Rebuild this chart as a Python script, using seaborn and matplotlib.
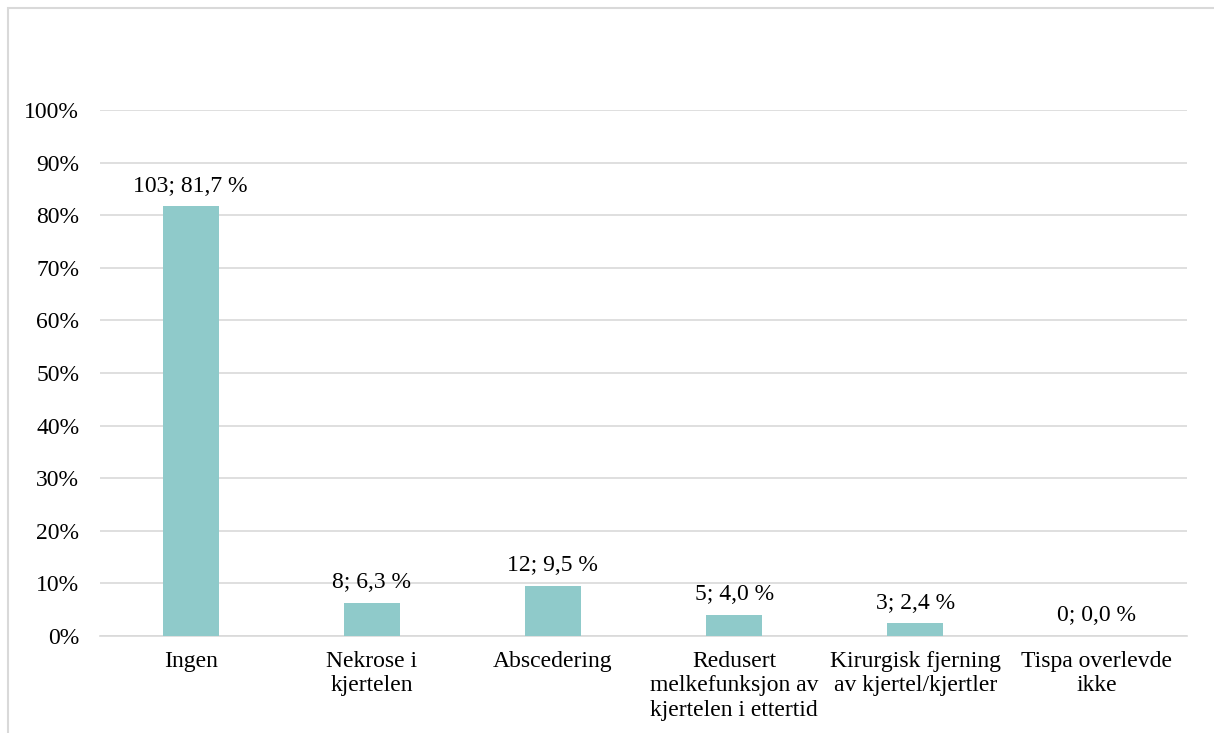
import matplotlib
matplotlib.use("Agg")
import matplotlib.pyplot as plt
import seaborn as sns
import pandas as pd
from matplotlib.patches import Rectangle
from matplotlib.ticker import FuncFormatter

categories = ["Ingen", "Nekrose i\nkjertelen", "Abscedering",
              "Redusert\nmelkefunksjon av\nkjertelen i ettertid",
              "Kirurgisk fjerning\nav kjertel/kjertler", "Tispa overlevde\nikke"]
counts = [103, 8, 12, 5, 3, 0]
percents = [81.7, 6.3, 9.5, 4.0, 2.4, 0.0]
yticks = [0, 10, 20, 30, 40, 50, 60, 70, 80, 90, 100]

sns.set_theme(style="white")
plt.rcParams['font.family'] = ['Liberation Serif', 'DejaVu Serif']

df = pd.DataFrame({"cat": categories, "pct": percents})

fig = plt.figure(figsize=(12.14, 7.33), dpi=100)
ax = fig.add_axes([100/1214, 1-636/733, (1187-100)/1214, (636-110)/733])

sns.barplot(data=df, x="cat", y="pct", color="#8fcaca", saturation=1,
            width=0.31, ax=ax, zorder=3, linewidth=0)

ax.set_ylim(0, 100)
ax.set_yticks(yticks)
ax.yaxis.set_major_formatter(FuncFormatter(lambda v, p: f"{int(v)}%"))
ax.grid(axis="y", color="#d9d9d9", linewidth=1.2, zorder=0)
ax.set_axisbelow(True)
for s in ["top", "right", "left"]:
    ax.spines[s].set_visible(False)
ax.spines["bottom"].set_color("#d9d9d9")
ax.spines["bottom"].set_linewidth(1.2)
ax.tick_params(axis="both", length=0, labelsize=17, colors="black")
ax.tick_params(axis="y", pad=15)
ax.tick_params(axis="x", pad=11)
ax.set_xlabel("")
ax.set_ylabel("")
for lbl in ax.get_xticklabels():
    lbl.set_linespacing(1.2)

for i, (c, p) in enumerate(zip(counts, percents)):
    ax.annotate(f"{c}; {p:.1f} %".replace(".", ","), (i, p), xytext=(0, 7),
                textcoords="offset points", ha="center", va="bottom",
                fontsize=17, color="black")

fig.patches.append(Rectangle((8/1214, -0.1), 1.2, (1-8/733)+0.1,
                             transform=fig.transFigure, fill=False,
                             edgecolor="#d9d9d9", linewidth=1.5))

fig.savefig("out.png", dpi=100)
